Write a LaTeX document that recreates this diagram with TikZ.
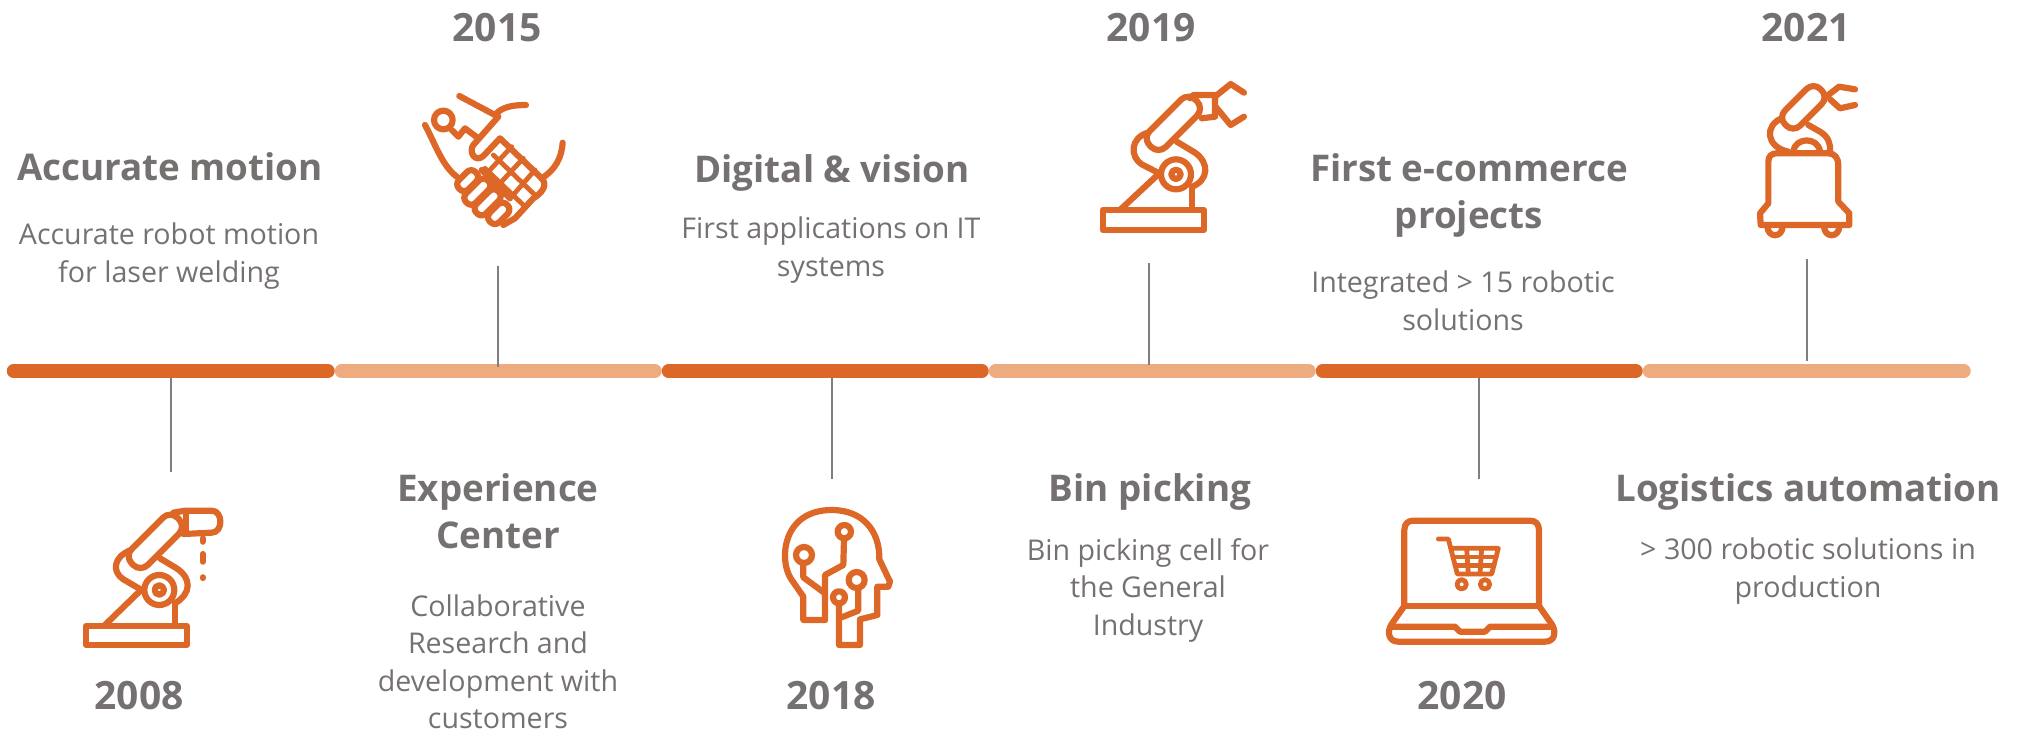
\documentclass[tikz,border=0pt]{standalone}
\usepackage{fontspec}
\setmainfont{Open Sans}
\definecolor{ink}{HTML}{767171}
\definecolor{orangeA}{HTML}{DD6727}
\definecolor{orangeB}{HTML}{EFAB80}
\definecolor{stemc}{HTML}{7F7F7F}
\tikzset{
 x=1pt,y=-1pt,
 yearlbl/.style={font=\fontsize{39}{44}\selectfont\bfseries,text=ink,anchor=center},
 headlbl/.style={font=\fontsize{36.8}{47}\selectfont\bfseries,text=ink,align=center,anchor=center},
 bodylbl/.style={font=\fontsize{28.6}{37.5}\selectfont,text=ink,align=center,anchor=center},
 bardark/.style={line width=13.5pt,line cap=round,draw=orangeA},
 barlight/.style={line width=13.5pt,line cap=round,draw=orangeB},
 stemline/.style={line width=1.2pt,draw=stemc},
 ic/.style={draw=orangeA,line width=6.2pt,line join=round,line cap=round,fill=none},
 icthin/.style={draw=orangeA,line width=4.8pt,line join=round,line cap=round,fill=none},
 zoomed/.style={scale=0.3333},
}
\newcommand{\capsule}[5][ic]{\draw[#1,shift={(#2)},rotate=#5,rounded corners=#4*0.3pt] (-#3,-#4) rectangle (#3,#4);}
\begin{document}
\begin{tikzpicture}
\useasboundingbox (0,0) rectangle (2019,732);
% bars
\coordinate (b0) at (13.5,371);\coordinate (b1) at (328,371);
\coordinate (b2) at (341.5,371);\coordinate (b3) at (655,371);
\coordinate (b4) at (668.5,371);\coordinate (b5) at (982,371);
\coordinate (b6) at (995.5,371);\coordinate (b7) at (1309,371);
\coordinate (b8) at (1322.5,371);\coordinate (b9) at (1636,371);
\coordinate (b10) at (1649.5,371);\coordinate (b11) at (1964,371);
\draw[bardark] (b0)--(b1);
\draw[barlight] (b2)--(b3);
\draw[bardark] (b4)--(b5);
\draw[barlight] (b6)--(b7);
\draw[bardark] (b8)--(b9);
\draw[barlight] (b10)--(b11);
% stems
\coordinate (s1a) at (171,377);\coordinate (s1b) at (171,472);
\coordinate (s2a) at (498,266);\coordinate (s2b) at (498,367);
\coordinate (s3a) at (832,377);\coordinate (s3b) at (832,479);
\coordinate (s4a) at (1149,263);\coordinate (s4b) at (1149,365);
\coordinate (s5a) at (1479,377);\coordinate (s5b) at (1479,479);
\coordinate (s6a) at (1807,259);\coordinate (s6b) at (1807,361);
\foreach \p/\q in {s1a/s1b,s2a/s2b,s3a/s3b,s4a/s4b,s5a/s5b,s6a/s6b}\draw[stemline] (\p)--(\q);
% years
\node[yearlbl] (y15) at (497,27.5) {2015};
\node[yearlbl] (y19) at (1151,27.5) {2019};
\node[yearlbl] (y21) at (1806,27.5) {2021};
\node[yearlbl] (y08) at (139,696) {2008};
\node[yearlbl] (y18) at (831,696) {2018};
\node[yearlbl] (y20) at (1462,696) {2020};
% upper texts
\node[headlbl] (h1) at (170,167) {Accurate motion};
\node[bodylbl] (t1) at (169,256) {Accurate robot motion\\for laser welding};
\node[headlbl] (h3) at (832,173) {Digital \& vision};
\node[bodylbl] (t3) at (831,250) {First applications on IT\\systems};
\node[headlbl] (h5) at (1469,195) {First e-commerce\\projects};
\node[bodylbl] (t5) at (1463,301) {Integrated > 15 robotic\\solutions};
% lower texts
\node[headlbl] (h2) at (498,511) {Experience\\Center};
\node[bodylbl] (t2) at (498,662) {Collaborative\\Research and\\development with\\customers};
\node[headlbl] (h4) at (1150,492) {Bin picking};
\node[bodylbl] (t4) at (1148,590) {Bin picking cell for\\the General\\Industry};
\node[headlbl] (h6) at (1808,492) {Logistics automation};
\node[bodylbl] (t6) at (1808,571) {> 300 robotic solutions in\\production};
% icon 2008
\begin{scope}[shift={(60,490)},zoomed]
 \draw[ic] (78,408) rectangle (380,465);
 \draw[ic] (135,405)--(243,300);
 \draw[ic] (345,340)--(345,405);
 \draw[ic] (298,300) circle (45);
 \draw[ic] (298,300) circle (14);
 \capsule{286,154}{97}{34}{45}
 \draw[ic] (213,180) .. controls (160,200) and (155,245) .. (190,268) -- (245,300);
 \draw[ic] (300,205) -- (350,235) .. controls (395,265) and (395,310) .. (345,340);
 \draw[ic] (340,68) -- (375,62) -- (455,62) .. controls (490,62) and (490,128) .. (455,128) -- (370,132);
 \draw[ic] (378,66) -- (378,128);
 \draw[ic] (428,145)--(428,155);
 \draw[ic] (428,192)--(428,215);
 \draw[ic] (428,262)--(428,264);
\end{scope}
% icon 2015
\begin{scope}[shift={(400,70)},zoomed]
 \draw[ic] (178,78)--(285,135);
 \draw[ic] (285,135) .. controls (305,110) and (340,105) .. (378,105);
 \draw[ic] (130,150) circle (28);
 \draw[ic] (155,180)--(175,200)--(195,175)--(235,205);
 \draw[ic] (295,140)--(220,225) .. controls (205,245) and (225,280) .. (250,258) -- (300,205) -- (425,325);
 \draw[ic] (75,165) .. controls (105,220) and (125,285) .. (170,320);
 \draw[ic] (488,218) .. controls (485,265) and (465,300) .. (425,325);
 \capsule{203,332}{35}{20}{45}
 \capsule{232,365}{46}{20}{45}
 \capsule{263,397}{46}{20}{45}
 \capsule{296,430}{36}{20}{45}
 \draw[ic] (245,300)--(330,385);
 \draw[icthin] (335,230)--(270,300);
 \draw[icthin] (370,265)--(300,340);
 \draw[icthin] (405,300)--(335,380);
 \draw[icthin] (280,255)--(405,375);
 \draw[icthin] (255,295)--(370,405);
 \draw[ic] (425,325) .. controls (445,345) and (425,370) .. (400,385) -- (345,445) -- (310,465);
\end{scope}
% icon 2018
\begin{scope}[shift={(760,490)},zoomed]
 \draw[ic] (195,390) -- (130,390) -- (130,320) -- (92,265) .. controls (55,205) and (70,60) .. (215,60) .. controls (310,60) and (360,125) .. (358,208) -- (390,275) -- (385,290) -- (352,290) -- (352,375) -- (300,388) -- (300,465) -- (237,465) -- (237,345);
 \draw[ic] (237,322) circle (18);
 \draw[ic] (245,382)--(295,362)--(295,295);
 \draw[ic] (290,270) circle (24);
 \draw[ic] (195,390)--(195,255)--(250,225)--(252,148);
 \draw[ic] (253,125) circle (20);
 \draw[ic] (130,219)--(130,262)--(195,310);
 \draw[ic] (132,195) circle (24);
\end{scope}
% icon 2019
\begin{scope}[shift={(1080,70)},zoomed]
 \draw[ic] (68,420) rectangle (372,480);
 \draw[ic] (122,418)--(238,310);
 \draw[ic] (337,350)--(337,415);
 \draw[ic] (288,313) circle (45);
 \draw[ic] (288,313) circle (14);
 \capsule{280,160}{97}{34}{45}
 \draw[ic] (203,188) .. controls (150,205) and (150,260) .. (185,283) -- (238,310);
 \draw[ic] (290,215) -- (345,248) .. controls (390,280) and (385,330) .. (337,350);
 \draw[ic] (330,85) -- (340,75) -- (405,75) -- (405,140) -- (365,145);
 \draw[ic] (405,80)--(452,42)--(492,68);
 \draw[ic] (405,108)--(452,165)--(492,140);
\end{scope}
% icon 2020
\begin{scope}[shift={(1370,500)},zoomed]
 \draw[ic] (103,318) -- (103,90) .. controls (103,70) and (115,62) .. (130,62) -- (480,62) .. controls (495,62) and (507,70) .. (507,90) -- (507,318);
 \draw[ic] (103,318) -- (507,318);
 \draw[ic] (103,318) -- (65,372) .. controls (50,395) and (55,425) .. (85,425) -- (525,425) .. controls (555,425) and (560,395) .. (545,372) -- (507,318);
 \draw[ic] (65,380) -- (255,380) -- (270,395) -- (345,395) -- (360,380) -- (545,380);
 \draw[icthin] (205,117) -- (235,117) -- (262,222) -- (365,222) -- (385,145) -- (245,145);
 \draw[icthin] (252,171)--(378,171);
 \draw[icthin] (258,196)--(372,196);
 \draw[icthin] (290,145)--(295,222);
 \draw[icthin] (335,145)--(330,222);
 \draw[icthin] (275,253) circle (14);
 \draw[icthin] (345,253) circle (14);
\end{scope}
% icon 2021
\begin{scope}[shift={(1740,70)},zoomed]
 \draw[ic] (62,465) -- (60,430) -- (85,400) -- (85,275) .. controls (85,258) and (95,250) .. (110,250) -- (265,250) .. controls (285,250) and (295,265) .. (295,285) -- (295,395) -- (328,430) -- (328,465) -- cycle;
 \draw[ic] (82,468) .. controls (82,505) and (128,505) .. (128,468);
 \draw[ic] (252,468) .. controls (252,505) and (298,505) .. (298,468);
 \draw[ic] (160,245) .. controls (165,200) and (235,200) .. (240,245);
 \capsule{190,112}{75}{32}{45}
 \draw[ic] (125,145) .. controls (75,165) and (75,230) .. (145,245);
 \draw[ic] (205,165) -- (240,185) .. controls (265,200) and (272,220) .. (270,245);
 \draw[ic] (265,75)--(297,50)--(345,58);
 \draw[ic] (270,88)--(300,115)--(345,105);
\end{scope}
\end{tikzpicture}
\end{document}
